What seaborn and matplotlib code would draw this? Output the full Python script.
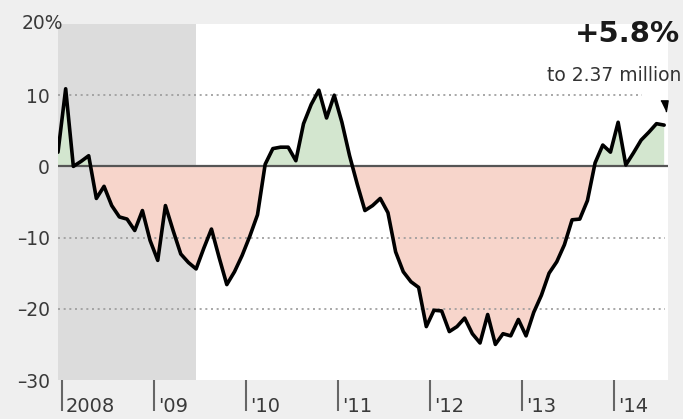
import numpy as np
import matplotlib
matplotlib.use("Agg")
import matplotlib.pyplot as plt
import seaborn as sns

# Year-over-year change (%) in homes for sale, monthly, Dec 2007 to Jul 2014
change_pct = [2.0, 10.9, 0.0, 0.7, 1.5, -4.5, -2.8, -5.5, -7.1, -7.4,
              -9.0, -6.2, -10.4, -13.2, -5.5, -9.0, -12.3, -13.5, -14.4, -11.5,
              -8.8, -12.8, -16.6, -14.8, -12.5, -9.8, -6.8, 0.3, 2.5, 2.7,
              2.7, 0.8, 6.0, 8.7, 10.7, 6.8, 10.0, 6.2, 1.5, -2.5,
              -6.2, -5.5, -4.5, -6.5, -12.0, -14.8, -16.2, -17.0, -22.5, -20.2,
              -20.3, -23.2, -22.5, -21.3, -23.5, -24.8, -20.8, -25.0, -23.5, -23.8,
              -21.5, -23.8, -20.5, -18.1, -15.0, -13.4, -11.0, -7.5, -7.4, -4.8,
              0.5, 3.0, 2.0, 6.2, 0.2, 1.9, 3.7, 4.8, 6.0, 5.8]
start_year, start_month = 2007, 12
recession = [(2007, 12), (2009, 6)]

year_ticks = [2008, 2009, 2010, 2011, 2012, 2013, 2014]
year_labels = ["2008", "'09", "'10", "'11", "'12", "'13", "'14"]
y_ticks = [20, 10, 0, -10, -20, -30]
y_labels = ["", "10", "0", "\u201310", "\u201320", "\u201330"]
grid_values = [10, -10, -20]

headline = "+5.8%"
subline = "to 2.37 million"


def month_pos(year, month):
    # monthly points sit in the middle of their month
    return year + (month - 0.5) / 12


values = np.array(change_pct)
x = month_pos(start_year, start_month) + np.arange(len(values)) / 12

sns.set_theme(style="white")
plt.rcParams['font.family'] = ['DejaVu Sans']

fig = plt.figure(figsize=(6.83, 4.19), dpi=100, facecolor="#efefef")
ax = fig.add_axes([58 / 683, 1 - 380 / 419, 610 / 683, 356 / 419])
ax.set_facecolor("white")

ax.axvspan(month_pos(*recession[0]), month_pos(*recession[1]), color="#dcdcdc", lw=0, zorder=0)

ax.fill_between(x, values, 0, where=values >= 0, interpolate=True,
                color="#d3e6cf", lw=0, zorder=1)
ax.fill_between(x, values, 0, where=values <= 0, interpolate=True,
                color="#f7d5cb", lw=0, zorder=1)

for g in grid_values:
    ax.axhline(g, color="#9a9a9a", lw=1.2, ls=(0, (1.2, 2.2)),
               xmax=0.957 if g > 0 else 0.995, zorder=2)
ax.axhline(0, color="#555555", lw=1.6, zorder=3)

sns.lineplot(x=x, y=values, color="black", lw=2.6, ax=ax, zorder=4)

# small pointer above the latest value
ax.plot([x[-1]], [values[-1] + 3.0], marker=[(-1, 1), (1, 1), (0.5, -2.1)],
        markersize=11, color="black", lw=0, zorder=5)

ax.set_xlim(x[0], x[-1] + 0.5 / 12)
ax.set_ylim(-30, 20)
for s in ax.spines.values():
    s.set_visible(False)

ax.set_xticks(year_ticks)
ax.set_xticklabels([])
ax.tick_params(axis="x", bottom=True, direction="out", length=22, width=1.5,
               color="#666666")
for yr, lab in zip(year_ticks, year_labels):
    ax.annotate(lab, xy=(yr, 0), xycoords=("data", "axes fraction"),
                xytext=(4, -26), textcoords="offset pixels",
                ha="left", va="center", fontsize=14, color="#3a3a3a")

ax.set_yticks(y_ticks)
ax.set_yticklabels(y_labels, fontsize=13.5, color="#3a3a3a")
ax.tick_params(axis="y", left=False, length=0, pad=6)
ax.annotate("20%", xy=(0, 20), xycoords=("axes fraction", "data"),
            xytext=(-36, 0), textcoords="offset pixels",
            ha="left", va="center", fontsize=13.5, color="#3a3a3a")

fig.text(680 / 683, 1 - 34 / 419, headline, ha="right", va="center",
         fontsize=21, fontweight="bold", color="#1a1a1a")
fig.text(681 / 683, 1 - 75 / 419, subline, ha="right", va="center",
         fontsize=13.5, color="#333333")

ax.set_xlabel("")
ax.set_ylabel("")
fig.savefig("out.png", dpi=100, facecolor=fig.get_facecolor())
